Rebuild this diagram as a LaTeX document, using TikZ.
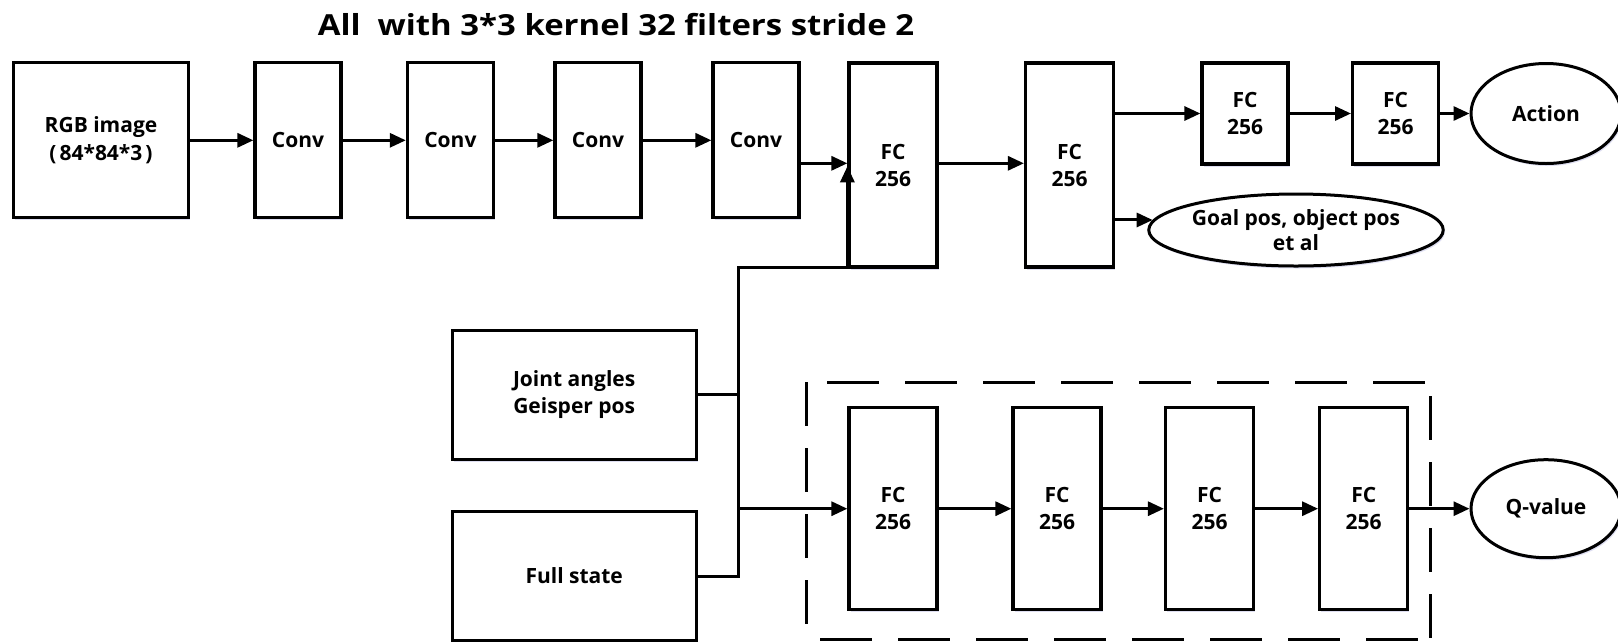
\documentclass[tikz,border=0pt]{standalone}
\usepackage{fontspec}
\setmainfont{Open Sans}
\newfontfamily\titlefont{Open Sans}[FakeStretch=1.135]
\usetikzlibrary{arrows.meta,shapes.geometric,shadows}
\begin{document}
\begin{tikzpicture}[x=1pt,y=-1pt,
  lbl/.style={font=\fontsize{21}{27}\selectfont\bfseries, align=center},
  shd/.style={drop shadow={shadow xshift=1.5pt, shadow yshift=-2.5pt, fill=blue!40!gray, opacity=0.18}},
  box/.style={draw, fill=white, line width=3.2pt, inner sep=0pt, shd, lbl},
  oval/.style={ellipse, draw, fill=white, line width=3pt, inner sep=0pt, shd, lbl},
  conn/.style={line width=3pt},
  arr/.style={conn, -{Triangle[length=16pt,width=14pt]}},
  convbox/.style={box, minimum width=86pt, minimum height=155pt},
  bigfc/.style={box, minimum width=88pt, minimum height=204pt},
  smallfc/.style={box, minimum width=86pt, minimum height=101pt},
  qfc/.style={box, minimum width=88pt, minimum height=202pt},
  inbox/.style={box, minimum width=244pt, minimum height=129pt},
  hdash/.style={line width=3pt, dash pattern=on 52pt off 26pt},
  vdash/.style={line width=3pt, dash pattern=on 44pt off 22pt}
]
\useasboundingbox[fill=white] (0,0) rectangle (1618,641);

\node[anchor=base, font=\titlefont\fontsize{29}{34}\selectfont\bfseries] (title) at (616,35) {All\ \ with 3*3 kernel 32 filters stride 2};

\node[box, minimum width=175pt, minimum height=155pt, font=\fontsize{21}{28}\selectfont\bfseries] (rgb) at (101,140.3) {RGB image\\(\kern3pt 84*84*3\kern3pt)};
\node[convbox] (c1) at (298,140.3) {Conv};
\node[convbox] (c2) at (450.4,140.3) {Conv};
\node[convbox] (c3) at (598,140.3) {Conv};
\node[convbox] (c4) at (756,140.3) {Conv};

\node[bigfc] (fc1) at (893,165) {FC\\256};
\node[bigfc] (fc2) at (1069.5,165) {FC\\256};
\node[smallfc] (s1) at (1245,113.5) {FC\\256};
\node[smallfc] (s2) at (1395.6,113.5) {FC\\256};
\node[oval, minimum width=150pt, minimum height=100pt] (act) at (1546,113.5) {Action};
\node[oval, minimum width=278pt, minimum height=72pt, font=\fontsize{21}{25}\selectfont\bfseries] (goal) at (1296,230) {Goal pos, object pos\\et al};

\node[inbox] (joint) at (574.2,394.6) {Joint angles\\Geisper pos};
\node[inbox] (full) at (574.2,576) {Full state};

% dashed frame
\coordinate (dtl) at (806,382);
\coordinate (dbr) at (1430,639);
\draw[hdash] ([xshift=21pt]dtl) -- (dtl -| dbr);
\draw[vdash] (dtl) -- (dtl |- dbr);
\draw[vdash] ([yshift=-14pt]dtl -| dbr) -- (dbr);
\draw[hdash] ([xshift=14pt]dtl |- dbr) -- (dbr);

\node[qfc] (b1) at (893,508.7) {FC\\256};
\node[qfc] (b2) at (1057,508.7) {FC\\256};
\node[qfc] (b3) at (1209.5,508.7) {FC\\256};
\node[qfc] (b4) at (1363.7,508.7) {FC\\256};
\node[oval, minimum width=150pt, minimum height=98pt] (q) at (1546,508.7) {Q-value};

% top chain
\draw[arr] (rgb) -- (c1);
\draw[arr] (c1) -- (c2);
\draw[arr] (c2) -- (c3);
\draw[arr] (c3) -- (c4);
\coordinate (j4) at ([yshift=-23pt]c4.east);
\draw[arr] (j4) -- (j4 -| fc1.west);
\draw[arr] (fc1.east |- j4) -- (fc2.west |- j4);
\draw[arr] (fc2.east |- s1) -- (s1);
\draw[arr] (s1) -- (s2);
\draw[arr] (s2) -- (act);
\draw[arr] (fc2.east |- goal.176) -- (goal.176);

% bus from inputs
\coordinate (bus) at (738,267);
\coordinate (uptip) at ([yshift=-3pt]j4 -| fc1.west);
\draw[conn] (joint.east) -- (joint.east -| bus);
\draw[conn] (full.east) -- (full.east -| bus) -- (bus) -- (bus -| fc1.west);
\draw[arr] (bus -| fc1.west) -- (uptip);
\draw[arr] (bus |- b1) -- (b1);

% bottom chain
\draw[arr] (b1) -- (b2);
\draw[arr] (b2) -- (b3);
\draw[arr] (b3) -- (b4);
\draw[arr] (b4) -- (q);
\end{tikzpicture}
\end{document}
